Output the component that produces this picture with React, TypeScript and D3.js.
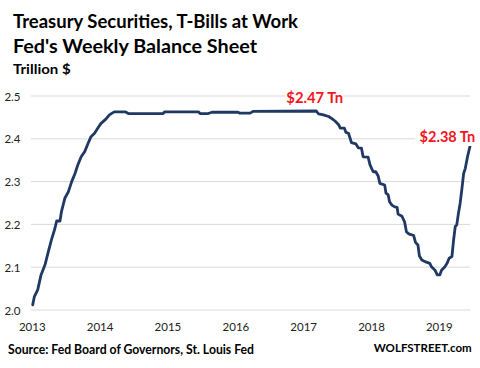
import React from "react";
import * as d3 from "d3";

const dates: string[] = [
  "2013-07-04","2013-07-13","2013-07-31","2013-08-18","2013-09-08","2013-09-26","2013-10-13","2013-11-01",
  "2013-11-10","2013-11-28","2013-12-06","2013-12-24","2014-01-12","2014-01-30","2014-02-17","2014-03-04",
  "2014-03-22","2014-04-10","2014-04-28","2014-05-14","2014-06-02","2014-06-20","2014-07-07","2014-08-02",
  "2014-08-21","2014-09-16","2014-11-14","2014-12-01","2015-06-06","2015-06-15","2015-12-13","2015-12-22",
  "2016-02-04","2016-02-24","2016-07-13","2016-07-23","2016-09-17","2016-10-02","2017-09-08","2017-09-20",
  "2017-10-16","2017-11-13","2017-12-01","2017-12-19","2018-01-06","2018-01-15","2018-02-06","2018-02-14",
  "2018-02-28","2018-03-07","2018-03-16","2018-04-09","2018-04-22","2018-05-09","2018-05-18","2018-06-14",
  "2018-06-24","2018-07-11","2018-07-25","2018-08-07","2018-08-16","2018-09-11","2018-09-18","2018-09-30",
  "2018-10-07","2018-10-20","2018-11-04","2018-11-17","2018-11-22","2018-12-13","2018-12-27","2019-01-06",
  "2019-01-18","2019-02-14","2019-02-24","2019-03-09","2019-03-17","2019-03-30","2019-04-16","2019-05-12",
  "2019-05-21","2019-06-09","2019-06-21","2019-07-05","2019-07-14","2019-08-01","2019-08-13","2019-08-24",
  "2019-09-08","2019-09-17","2019-09-26","2019-10-04","2019-10-13","2019-10-22","2019-11-01","2019-11-10",
  "2019-11-19","2019-12-01","2019-12-16",
];

const values: number[] = [
  2.012,2.031,2.047,2.082,2.105,2.136,2.164,2.191,
  2.208,2.208,2.230,2.261,2.276,2.300,2.319,2.339,
  2.358,2.370,2.389,2.405,2.413,2.425,2.436,2.446,
  2.456,2.463,2.463,2.459,2.459,2.463,2.463,2.459,
  2.459,2.462,2.462,2.460,2.460,2.464,2.465,2.458,
  2.456,2.452,2.447,2.441,2.433,2.425,2.425,2.415,
  2.413,2.404,2.391,2.388,2.379,2.378,2.358,2.357,
  2.339,2.323,2.323,2.313,2.296,2.292,2.273,2.269,
  2.253,2.245,2.241,2.240,2.224,2.219,2.206,2.183,
  2.178,2.174,2.158,2.152,2.126,2.117,2.113,2.109,
  2.101,2.093,2.082,2.082,2.093,2.101,2.109,2.121,
  2.125,2.164,2.195,2.199,2.226,2.249,2.284,2.319,
  2.331,2.358,2.386,
];

const yTicks: number[] = [2.0, 2.1, 2.2, 2.3, 2.4, 2.5];
const xTickYears: number[] = [2013, 2014, 2015, 2016, 2017, 2018, 2019];

const titleLines: string[] = ["Treasury Securities, T-Bills at Work", "Fed's Weekly Balance Sheet"];
const unitLabel = "Trillion $";
const sourceText = "Source: Fed Board of Governors, St. Louis Fed";
const brandText = "WOLFSTREET.com";
const peakLabel = "$2.47 Tn";
const peakDate = "2017-09-08";
const peakValue = 2.465;
const lastLabel = "$2.38 Tn";

const FONT = "Lato, 'Open Sans', sans-serif";
const RED = "#f5141e";

export default function App() {
  const W = 480, H = 368;
  const parse = d3.timeParse("%Y-%m-%d");
  const data = dates.map((d, i) => ({ date: parse(d) as Date, value: values[i] }));

  const x = d3
    .scaleTime()
    .domain([new Date(2013, 6, 2), new Date(2019, 6, 2)])
    .range([32.3, 439.3]);
  const y = d3.scaleLinear().domain([2.0, 2.5]).range([310, 96]);

  const gridX0 = 31, gridX1 = 470;

  const line = d3
    .line<{ date: Date; value: number }>()
    .x((d) => x(d.date))
    .y((d) => y(d.value));

  const last = data[data.length - 1];
  const peakX = x(parse(peakDate) as Date);

  return (
    <svg width={W} height={H} style={{ position: "absolute", left: 0, top: 0, background: "#fff" }}>
      <rect x={0} y={0} width={W} height={H} fill="#fff" />
      {/* Titles */}
      <text x={13} y={27.7} fontFamily={FONT} fontWeight={700} fontSize={18} fill="#000" textLength={285} lengthAdjust="spacingAndGlyphs">
        {titleLines[0]}
      </text>
      <text x={13} y={53.3} fontFamily={FONT} fontWeight={700} fontSize={18} fill="#000" textLength={244} lengthAdjust="spacingAndGlyphs">
        {titleLines[1]}
      </text>
      <text x={13} y={74} fontFamily={FONT} fontWeight={700} fontSize={12.5} fill="#000" textLength={57.7} lengthAdjust="spacingAndGlyphs">
        {unitLabel}
      </text>

      {/* Gridlines and y labels */}
      {yTicks.map((t) => (
        <g key={t}>
          <line x1={gridX0} x2={gridX1} y1={y(t)} y2={y(t)} stroke="#d9d9d9" strokeWidth={1} />
          <text x={20.5} y={y(t) + 4.5} textAnchor="end" fontFamily={FONT} fontSize={11.5} fill="#222">
            {t.toFixed(1)}
          </text>
        </g>
      ))}

      {/* X labels */}
      {xTickYears.map((yr) => (
        <text key={yr} x={x(new Date(yr, 6, 2))} y={330.7} textAnchor="middle" fontFamily={FONT} fontSize={11.5} fill="#222">
          {yr}
        </text>
      ))}

      {/* Data line */}
      <path d={line(data) || ""} fill="none" stroke="#1f3864" strokeWidth={2.8} strokeLinejoin="round" strokeLinecap="round" />

      {/* Annotations */}
      <rect x={peakX - 31} y={y(peakValue) - 19} width={58} height={15} fill="#fff" />
      <text x={peakX - 30} y={103.3} fontFamily={FONT} fontWeight={700} fontSize={14.5} fill={RED} textLength={56.7} lengthAdjust="spacingAndGlyphs">
        {peakLabel}
      </text>
      <rect x={x(last.date) - 55} y={130} width={62} height={16} fill="#fff" />
      <text x={x(last.date) - 50.7} y={142.3} fontFamily={FONT} fontWeight={700} fontSize={14.5} fill={RED} textLength={55.7} lengthAdjust="spacingAndGlyphs">
        {lastLabel}
      </text>

      {/* Footer */}
      <text x={8} y={354} fontFamily={FONT} fontWeight={700} fontSize={12.5} fill="#000" textLength={246} lengthAdjust="spacingAndGlyphs">
        {sourceText}
      </text>
      <text x={471.7} y={351.7} textAnchor="end" fontFamily={FONT} fontWeight={700} fontSize={11.5} fill="#000">
        {brandText}
      </text>
    </svg>
  );
}
